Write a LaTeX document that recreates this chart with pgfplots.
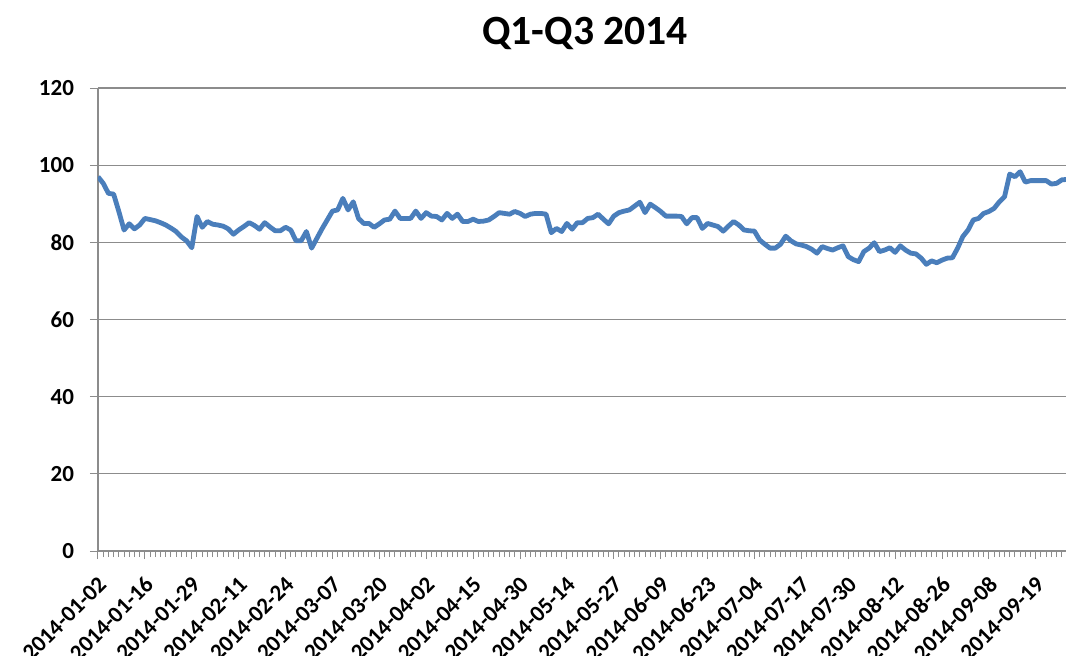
\documentclass[border=0pt]{standalone}
\usepackage{pgfplots}
\pgfplotsset{compat=1.18}
\usepackage{fontspec}
\setmainfont{Carlito}
\definecolor{excelblue}{HTML}{4A7EBB}
\definecolor{gridgray}{HTML}{8C8C8C}
\begin{document}
\begin{tikzpicture}
\begin{axis}[
  at={(49pt,52pt)}, anchor=south west,
  width=484pt, height=231.5pt, scale only axis,
  xmin=0, xmax=185.8, ymin=0, ymax=120,
  ytick={0,20,...,120},
  xtick={0,9,...,180},
  xticklabels={2014-01-02,2014-01-16,2014-01-29,2014-02-11,2014-02-24,2014-03-07,2014-03-20,2014-04-02,2014-04-15,2014-04-30,2014-05-14,2014-05-27,2014-06-09,2014-06-23,2014-07-04,2014-07-17,2014-07-30,2014-08-12,2014-08-26,2014-09-08,2014-09-19},
  minor xtick={0,1,...,186},
  axis x line*=bottom, axis y line*=left,
  axis line style={draw=gridgray, line width=0.7pt, -},
  tick align=outside,
  major tick length=4pt, minor tick length=3pt,
  tick style={draw=gridgray, line width=0.5pt},
  ymajorgrids, major grid style={draw=gridgray, line width=0.6pt},
  /pgf/number format/assume math mode=true,
  tick label style={font=\bfseries\fontsize{11.5}{13}\selectfont, text=black},
  xticklabel style={xshift=3pt, yshift=-10pt, rotate=45, anchor=east, inner sep=1pt},
  yticklabel style={xshift=-4.5pt},
  clip=true,
]
\addplot[excelblue, line width=2.4pt, line join=round] table[x expr=\coordindex, y index=0] {
v
97.0
95.3
92.7
92.5
88.0
83.2
84.8
83.5
84.5
86.2
85.9
85.6
85.1
84.5
83.7
82.8
81.4
80.4
78.6
86.7
83.9
85.4
84.7
84.5
84.2
83.5
82.1
83.2
84.1
85.1
84.4
83.4
85.1
84.0
83.0
83.0
83.9
83.2
80.4
80.4
82.8
78.5
81.0
83.5
85.8
88.1
88.4
91.4
88.4
90.5
86.2
84.9
84.9
83.9
84.8
85.8
86.0
88.1
86.2
86.2
86.2
88.1
86.2
87.7
86.8
86.7
85.8
87.5
86.2
87.3
85.4
85.4
86.0
85.4
85.5
85.8
86.7
87.7
87.5
87.3
88.0
87.5
86.7
87.3
87.5
87.5
87.3
82.5
83.6
82.8
84.9
83.4
85.1
85.1
86.2
86.4
87.3
86.0
84.8
86.8
87.7
88.1
88.4
89.4
90.4
87.7
89.9
89.0
88.0
86.8
86.8
86.8
86.7
84.8
86.4
86.4
83.6
84.9
84.5
84.1
82.9
84.2
85.4
84.5
83.2
83.0
82.9
80.6
79.5
78.5
78.5
79.5
81.6
80.4
79.6
79.3
78.9
78.2
77.2
78.9
78.4
78.0
78.6
79.1
76.3
75.5
75.0
77.6
78.5
79.9
77.6
78.0
78.6
77.4
79.1
78.0
77.2
77.0
75.9
74.3
75.2
74.7
75.4
75.9
76.0
78.5
81.5
83.2
85.8
86.2
87.5
88.0
88.8
90.5
91.8
97.7
97.0
98.3
95.6
96.0
96.0
96.0
96.0
95.1
95.3
96.2
96.3
};
\end{axis}
\node[font=\bfseries\fontsize{20.8}{24}\selectfont] at (292.5pt,311pt) {Q1-Q3 2014};
\pgfresetboundingbox
\useasboundingbox (0,0) rectangle (533pt,327.5pt);
\end{tikzpicture}
\end{document}
